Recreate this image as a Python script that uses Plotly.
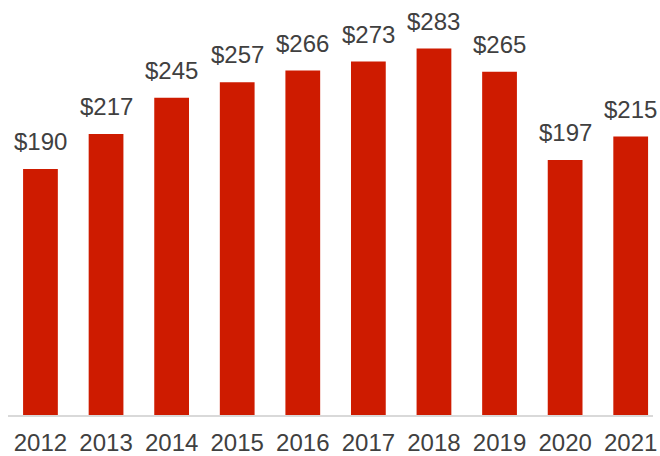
import plotly.graph_objects as go

years = ["2012", "2013", "2014", "2015", "2016", "2017", "2018", "2019", "2020", "2021"]
values = [190, 217, 245, 257, 266, 273, 283, 265, 197, 215]
labels = ["$" + str(v) for v in values]

BAR = "#CE1B00"
TXT = "#404040"
FONT = "Liberation Sans, Arial, sans-serif"

fig = go.Figure(go.Bar(x=years, y=values, marker_color=BAR, marker_line_width=0,
                       hoverinfo="x+y"))

for i, (v, t) in enumerate(zip(values, labels)):
    fig.add_annotation(x=i, y=v, xref="x", yref="y", text=t, showarrow=False,
                       yanchor="bottom", yshift=12,
                       font=dict(family=FONT, size=24, color=TXT))

fig.update_layout(
    width=660, height=456,
    margin=dict(l=8, r=7, t=0, b=41, pad=0),
    paper_bgcolor="white", plot_bgcolor="white",
    bargap=0.47, showlegend=False,
    font=dict(family=FONT, size=24, color=TXT),
)
fig.update_xaxes(type="category", range=[-0.495, 9.34], showline=True,
                 linecolor="#D9D9D9", linewidth=1.5, ticks="", showgrid=False,
                 automargin=False, ticklabelstandoff=5,
                 tickfont=dict(family=FONT, size=24, color=TXT))
fig.update_yaxes(range=[0, 320.5], visible=False, showgrid=False, zeroline=False)

fig.write_html("out.html", config={"displayModeBar": False},
               post_script="document.body.style.margin='0';document.body.style.overflow='hidden';")
